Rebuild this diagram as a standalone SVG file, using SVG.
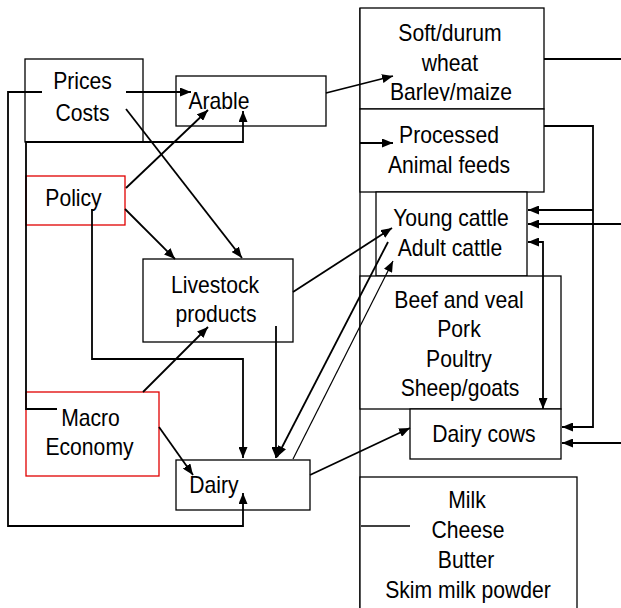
<svg xmlns="http://www.w3.org/2000/svg" width="621" height="608" viewBox="0 0 621 608">
<style>
.box{fill:#fff;stroke:#000;stroke-width:1.3}
.red{fill:#fff;stroke:#e00000;stroke-width:1.3}
.t{font-family:"Liberation Sans",Arial,sans-serif;font-size:23px;text-anchor:middle;fill:#000}
.c{fill:none;stroke:#000;stroke-width:1.8}
.thin{fill:none;stroke:#000;stroke-width:1.2}
.ln{fill:none;stroke:#000;stroke-width:1.3}
</style>
<defs>
<marker id="ah" markerUnits="userSpaceOnUse" markerWidth="11" markerHeight="9" refX="11" refY="4.5" orient="auto-start-reverse"><path d="M0,0 L11,4.5 L0,9 z" fill="#000"/></marker>
<clipPath id="softclip"><rect x="360" y="8" width="184" height="93"/></clipPath>
</defs>
<rect width="621" height="608" fill="#fff"/>
<g id="column-frame"><path class="ln" d="M360,8 V608"/></g>
<g id="soft-wheat">
<rect class="box" x="360" y="8" width="184" height="101"/>
<g clip-path="url(#softclip)">
<text class="t" transform="translate(450 0) scale(.92 1)" y="41">Soft/durum</text>
<text class="t" transform="translate(450 0) scale(.92 1)" y="71">wheat</text>
<text class="t" transform="translate(451 0) scale(.92 1)" y="100.5">Barley/maize</text>
</g>
</g>
<g id="processed-feeds">
<rect class="box" x="360" y="109" width="184" height="83"/>
<text class="t" transform="translate(449 0) scale(.92 1)" y="143">Processed</text>
<text class="t" transform="translate(449 0) scale(.92 1)" y="173">Animal feeds</text>
</g>
<g id="cattle">
<rect class="box" x="376" y="192" width="151" height="84"/>
<text class="t" transform="translate(451 0) scale(.92 1)" y="226">Young cattle</text>
<text class="t" transform="translate(450 0) scale(.92 1)" y="256">Adult cattle</text>
</g>
<g id="meats">
<rect class="box" x="360" y="276" width="201" height="133"/>
<text class="t" transform="translate(459 0) scale(.92 1)" y="308">Beef and veal</text>
<text class="t" transform="translate(459 0) scale(.92 1)" y="337">Pork</text>
<text class="t" transform="translate(459 0) scale(.92 1)" y="367">Poultry</text>
<text class="t" transform="translate(460 0) scale(.92 1)" y="396">Sheep/goats</text>
</g>
<g id="dairy-cows">
<rect class="box" x="410" y="409" width="151" height="50"/>
<text class="t" transform="translate(484 0) scale(.92 1)" y="442">Dairy cows</text>
</g>
<g id="milk-products">
<rect class="box" x="360" y="477" width="217" height="140"/>
<text class="t" transform="translate(467 0) scale(.92 1)" y="508">Milk</text>
<text class="t" transform="translate(468 0) scale(.92 1)" y="538">Cheese</text>
<text class="t" transform="translate(466 0) scale(.92 1)" y="568">Butter</text>
<text class="t" transform="translate(468 0) scale(.92 1)" y="598">Skim milk powder</text>
</g>
<g id="prices-costs">
<rect class="box" x="25" y="59" width="118" height="83"/>
<text class="t" transform="translate(82.5 0) scale(.92 1)" y="89">Prices</text>
<text class="t" transform="translate(82.5 0) scale(.92 1)" y="121">Costs</text>
</g>
<g id="arable">
<rect class="box" x="176" y="76" width="150" height="50"/>
<text class="t" transform="translate(219 0) scale(.92 1)" y="109">Arable</text>
</g>
<g id="policy">
<rect class="red" x="26" y="176" width="99" height="49"/>
<text class="t" transform="translate(73.5 0) scale(.92 1)" y="206">Policy</text>
</g>
<g id="livestock-products">
<rect class="box" x="143" y="259" width="150" height="83"/>
<text class="t" transform="translate(215 0) scale(.92 1)" y="293">Livestock</text>
<text class="t" transform="translate(216 0) scale(.92 1)" y="322">products</text>
</g>
<g id="macro-economy">
<rect class="red" x="26" y="392" width="133" height="84"/>
<text class="t" transform="translate(90.5 0) scale(.92 1)" y="426">Macro</text>
<text class="t" transform="translate(89.5 0) scale(.92 1)" y="455">Economy</text>
</g>
<g id="dairy">
<rect class="box" x="176" y="460" width="134" height="50"/>
<text class="t" transform="translate(214 0) scale(.92 1)" y="493">Dairy</text>
</g>
<g id="connectors">
<path class="c" d="M126,92 H191" marker-end="url(#ah)"/>
<path class="c" d="M42,92 H8 V526 H243 V493" marker-end="url(#ah)"/>
<path class="c" d="M57,409 H26 V142 H243 V111" marker-end="url(#ah)"/>
<path class="c" d="M126,188 L208,110" marker-end="url(#ah)"/>
<path class="c" d="M126,109 L242,258" marker-end="url(#ah)"/>
<path class="c" d="M125,209 L175,259" marker-end="url(#ah)"/>
<path class="c" d="M92,209 V359 H243 V458" marker-end="url(#ah)"/>
<path class="c" d="M143,392 L208,327" marker-end="url(#ah)"/>
<path class="c" d="M159,427 L193,475" marker-end="url(#ah)"/>
<path class="c" d="M276,326 V458" marker-end="url(#ah)"/>
<path class="c" d="M293,292 L392,228" marker-end="url(#ah)"/>
<path class="c" d="M388,242 L277,457" marker-end="url(#ah)" stroke-width="2.2"/>
<path class="thin" d="M293,459 L393,261" marker-end="url(#ah)"/>
<path class="c" d="M310,475 L410,428" marker-end="url(#ah)"/>
<path class="c" d="M326,93 L393,76" marker-end="url(#ah)"/>
<path class="c" d="M360,143 H393" marker-end="url(#ah)"/>
<path class="c" d="M544,59 H621"/>
<path class="c" d="M544,126 H593 V427 H562" marker-end="url(#ah)"/>
<path class="c" d="M593,210 H528" marker-end="url(#ah)"/>
<path class="c" d="M621,224 H528" marker-end="url(#ah)"/>
<path class="c" d="M621,443 H562" marker-end="url(#ah)"/>
<path class="c" d="M528,242 H543 V409" marker-start="url(#ah)" marker-end="url(#ah)"/>
<path class="ln" d="M361,526 H410"/>
</g>
</svg>
